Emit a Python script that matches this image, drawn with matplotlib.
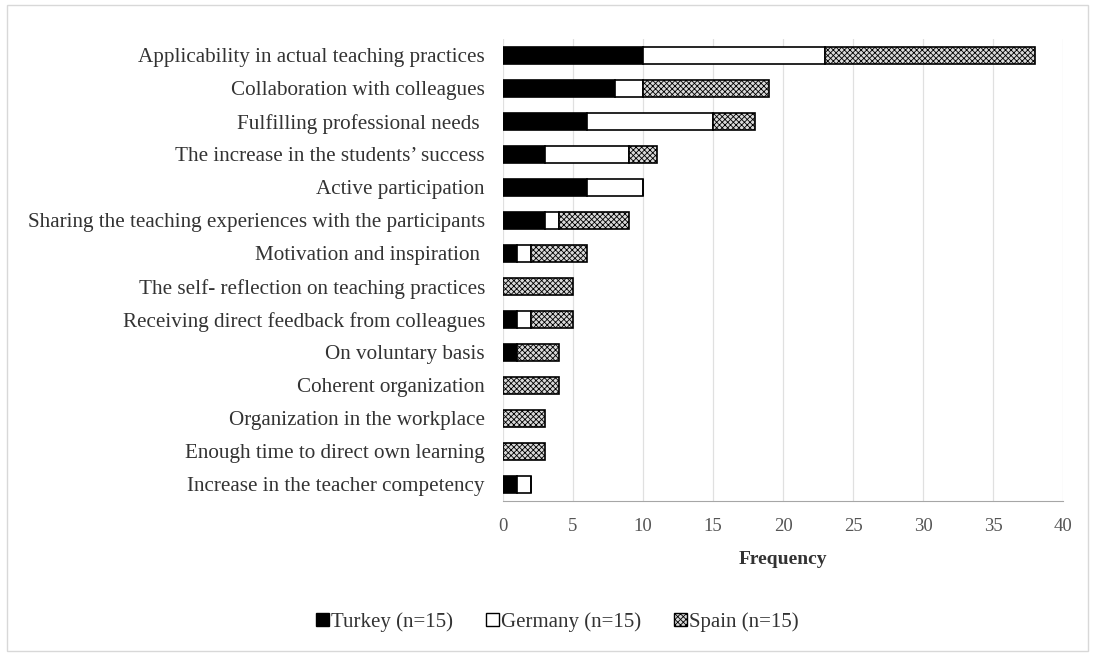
import matplotlib
matplotlib.use('Agg')
import matplotlib.pyplot as plt
from matplotlib.patches import Patch, Rectangle
import numpy as np

plt.rcParams['font.family'] = ['Liberation Serif', 'DejaVu Serif']
plt.rcParams['hatch.linewidth'] = 0.6

categories = [
    "Applicability in actual teaching practices",
    "Collaboration with colleagues",
    "Fulfilling professional needs ",
    "The increase in the students\u2019 success",
    "Active participation",
    "Sharing the teaching experiences with the participants",
    "Motivation and inspiration ",
    "The self- reflection on teaching practices",
    "Receiving direct feedback from colleagues",
    "On voluntary basis",
    "Coherent organization",
    "Organization in the workplace",
    "Enough time to direct own learning",
    "Increase in the teacher competency",
]
turkey = [10, 8, 6, 3, 6, 3, 1, 0, 1, 1, 0, 0, 0, 1]
germany = [13, 2, 9, 6, 4, 1, 1, 0, 1, 0, 0, 0, 0, 1]
spain = [15, 9, 3, 2, 0, 5, 4, 5, 3, 3, 4, 3, 3, 0]

series_labels = ["Turkey (n=15)", "Germany (n=15)", "Spain (n=15)"]

fig = plt.figure(figsize=(10.95, 6.56), dpi=100)
ax = fig.add_axes([0.4594, 0.2363, 0.5114, 0.7043])

y = np.arange(len(categories))
t = np.array(turkey)
g = np.array(germany)
s = np.array(spain)
h = 0.5
ax.barh(y, t, height=h, color='black', edgecolor='black', linewidth=1.2, zorder=3)
ax.barh(y, g, left=t, height=h, color='white', edgecolor='black', linewidth=1.2, zorder=3)
ax.barh(y, s, left=t + g, height=h, color='#d9d9d9', edgecolor='black',
        hatch='xxxxxx', linewidth=1.2, zorder=3)

ax.set_xlim(0, 40)
ax.set_ylim(len(categories) - 0.5, -0.5)
ax.set_xticks(range(0, 41, 5))
ax.set_yticks(y)
ax.set_yticklabels(categories, fontsize=15.2, color='#333333')
ax.tick_params(axis='y', length=0, pad=13)
ax.tick_params(axis='x', length=0, pad=12, labelsize=13.5, labelcolor='#555555')
ax.xaxis.grid(True, color='#e0e0e0', linewidth=0.9, zorder=0)
for sp in ['top', 'right', 'left']:
    ax.spines[sp].set_visible(False)
ax.spines['bottom'].set_color('#a6a6a6')
ax.set_xlabel('Frequency', fontsize=14, fontweight='bold', color='#333333', labelpad=12)

handles = [
    Patch(facecolor='black', edgecolor='black'),
    Patch(facecolor='white', edgecolor='black'),
    Patch(facecolor='#d9d9d9', edgecolor='black', hatch='xxxxxx'),
]
fig.legend(handles, series_labels, loc='center', bbox_to_anchor=(0.509, 0.052), ncol=3,
           frameon=False, fontsize=15, handlelength=0.6, handleheight=0.6,
           handletextpad=0.1, columnspacing=1.6, labelcolor='#333333')

fig.patches.append(Rectangle((0.006, 0.008), 0.988, 0.984, transform=fig.transFigure,
                             fill=False, edgecolor='#d8d8d8', linewidth=1.0))

fig.savefig('out.png', dpi=100)
